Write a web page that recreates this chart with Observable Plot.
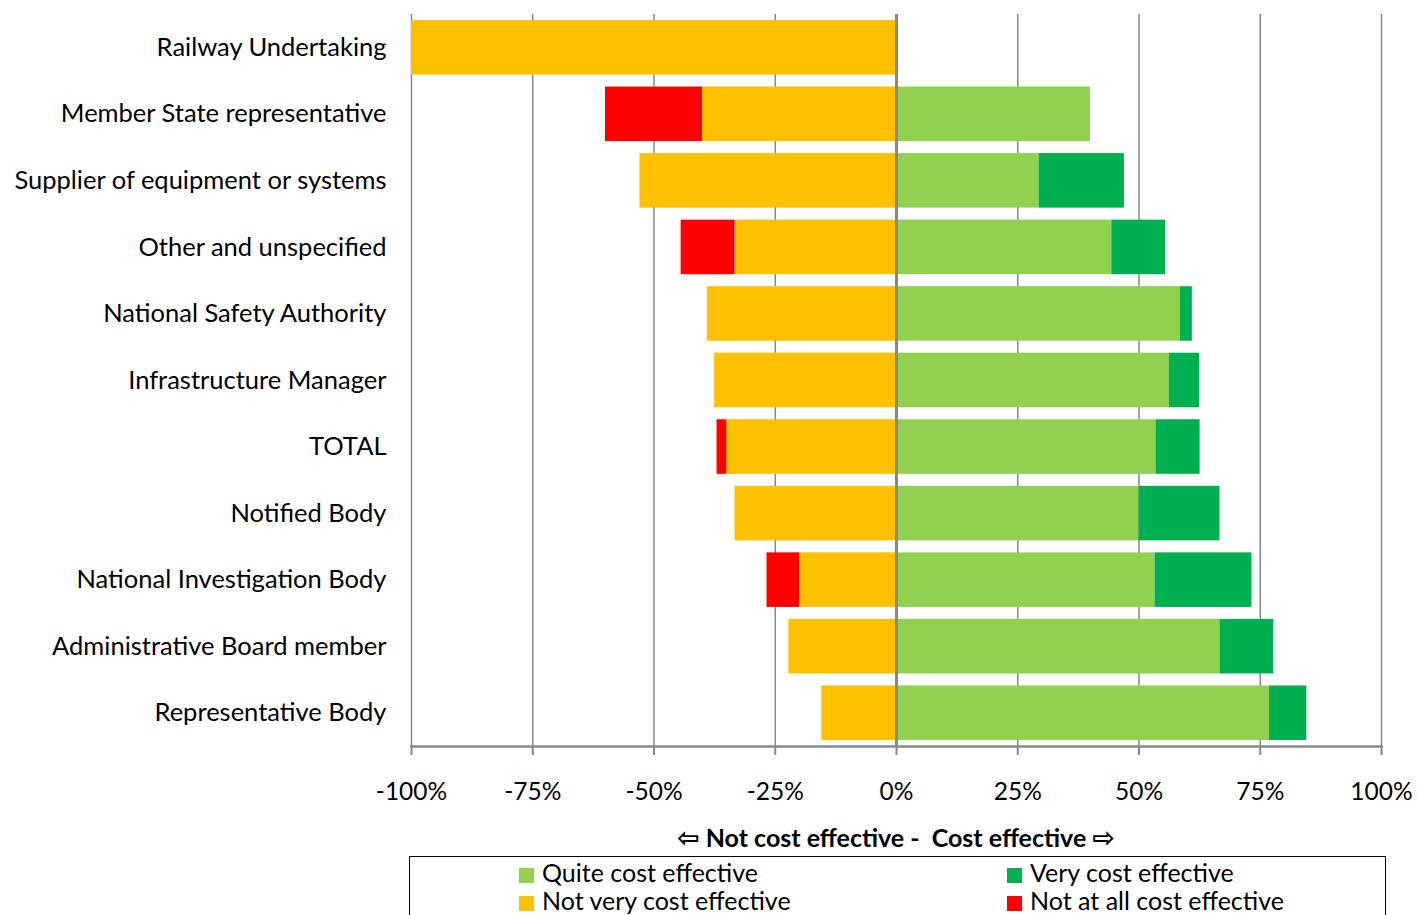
<!DOCTYPE html>
<html><head><meta charset="utf-8">
<script src="https://cdn.jsdelivr.net/npm/d3@7"></script>
<script src="https://cdn.jsdelivr.net/npm/@observablehq/plot@0.6"></script>
<style>
html,body{margin:0;padding:0;background:#fff;}
body{font-family:Lato,"Liberation Sans",sans-serif;color:#000;overflow:hidden;}
#wrap{position:relative;width:1417px;height:915px;}
#chart{position:absolute;left:0;top:0;}
#xtitle{position:absolute;left:411px;width:970px;top:822px;text-align:center;font-weight:bold;font-size:25px;line-height:30px;white-space:pre;}
#xtitle .arr{font-family:"DejaVu Sans";font-weight:bold;font-size:27px;}
#legend{position:absolute;left:409px;top:856px;width:977px;height:80px;border:1.5px solid #000;box-sizing:border-box;}
.li{position:absolute;font-size:25px;line-height:28px;white-space:nowrap;}
.sw{display:inline-block;width:15px;height:15px;margin-right:8px;vertical-align:-1px;}
</style></head><body>
<div id="wrap">
<div id="chart"></div>
<div id="xtitle"></div>
<div id="legend"></div>
</div>
<script>
const categories = ["Railway Undertaking","Member State representative","Supplier of equipment or systems","Other and unspecified","National Safety Authority","Infrastructure Manager","TOTAL","Notified Body","National Investigation Body","Administrative Board member","Representative Body"];
const quite    = [0, 40, 29.4, 44.4, 58.5, 56.25, 53.5, 50, 53.3, 66.7, 76.9];
const very     = [0, 0, 17.6, 11.1, 2.5, 6.25, 9.1, 16.7, 20, 11.1, 7.7];
const notVery  = [100, 40, 52.9, 33.3, 39, 37.5, 35, 33.3, 20, 22.2, 15.4];
const notAtAll = [0, 20, 0, 11.1, 0, 0, 2, 0, 6.7, 0, 0];
const seriesNames = ["Quite cost effective","Very cost effective","Not very cost effective","Not at all cost effective"];
const seriesColors = ["#92D050","#00B050","#FFC000","#FF0000"];
const xTicks = [-100,-75,-50,-25,0,25,50,75,100];
const axisTitle = "Not cost effective -  Cost effective";

const data = [];
categories.forEach((c,i)=>{
  if (quite[i]) data.push({cat:c, series:seriesNames[0], v: quite[i]});
  if (very[i]) data.push({cat:c, series:seriesNames[1], v: very[i]});
  if (notVery[i]) data.push({cat:c, series:seriesNames[2], v: -notVery[i]});
  if (notAtAll[i]) data.push({cat:c, series:seriesNames[3], v: -notAtAll[i]});
});

const chart = Plot.plot({
  width: 1417,
  height: 816,
  marginLeft: 411,
  marginRight: 36,
  marginTop: 14,
  marginBottom: 70,
  style: {fontFamily: 'Lato, "Liberation Sans", sans-serif', fontSize: "24px", color: "#000", background: "#fff"},
  x: {domain: [-100, 100]},
  y: {domain: categories, paddingInner: 0.18, paddingOuter: 0.09, round: false},
  color: {domain: seriesNames, range: seriesColors},
  marks: [
    Plot.ruleX(xTicks, {stroke: "#888", strokeWidth: 1.5, strokeOpacity: 1}),
    Plot.barX(data, Plot.stackX({x: "v", y: "cat", fill: "series", order: seriesNames})),
    Plot.ruleX([0], {stroke: "#888", strokeWidth: 3, strokeOpacity: 1}),
    Plot.frame({anchor: "bottom", stroke: "#888", strokeWidth: 2.5, strokeOpacity: 1}),
    Plot.axisX({ticks: xTicks, tickFormat: d => d + "%", tickSize: 9, tickPadding: 27, stroke: "#888", strokeWidth: 2, strokeOpacity: 1, fill: "#000", fontSize: 24.5, label: null}),
    Plot.axisY({tickSize: 0, tickPadding: 25, fill: "#000", fontSize: 25.5, label: null})
  ]
});
document.getElementById("chart").appendChild(chart);

document.getElementById("xtitle").innerHTML = '<span class="arr">\u21E6</span> ' + axisTitle + ' <span class="arr">\u21E8</span>';

const legendPos = [[109, 1], [597, 1], [109, 29], [597, 29]];
const leg = document.getElementById("legend");
seriesNames.forEach((s, i) => {
  const d = document.createElement("div");
  d.className = "li";
  d.style.left = legendPos[i][0] + "px";
  d.style.top = legendPos[i][1] + "px";
  d.innerHTML = `<span class="sw" style="background:${seriesColors[i]}"></span>${s}`;
  leg.appendChild(d);
});
</script>
</body></html>
